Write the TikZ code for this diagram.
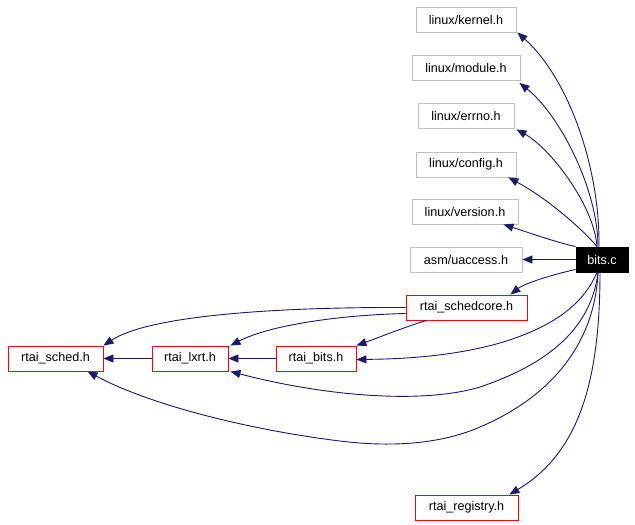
\documentclass[tikz,border=0pt]{standalone}
\usepackage{fontspec}
\setmainfont{Liberation Sans}
\usetikzlibrary{arrows.meta}
\definecolor{edgeblue}{RGB}{25,25,112}
\definecolor{boxgray}{RGB}{191,191,191}
\tikzset{
  filebox/.style={draw=boxgray, line width=0.9pt, minimum height=25pt, inner sep=0pt, font=\fontsize{12.6pt}{14pt}\selectfont},
  redbox/.style={filebox, draw=red},
  mainbox/.style={filebox, draw=black, fill=black, text=white},
  dep/.style={draw=edgeblue, line width=0.9pt, -{Triangle[length=10pt,width=8pt]}}
}
\begin{document}
\begin{tikzpicture}[x=1pt,y=-1pt]
\useasboundingbox (0,0) rectangle (635,525);
\node[filebox, minimum width=100pt] (kernel) at (466,19.5) {linux/kernel.h};
\node[filebox, minimum width=108pt] (module) at (466,68) {linux/module.h};
\node[filebox, minimum width=96pt] (errno) at (466,115.5) {linux/errno.h};
\node[filebox, minimum width=100pt] (config) at (466,164.5) {linux/config.h};
\node[filebox, minimum width=106pt] (version) at (465,211.5) {linux/version.h};
\node[filebox, minimum width=112pt] (uaccess) at (466,259.5) {asm/uaccess.h};
\node[mainbox, minimum width=52pt] (bits) at (602,259.5) {bits.c};
\node[redbox, minimum width=121pt] (schedcore) at (466.5,307.5) {rtai\_schedcore.h};
\node[redbox, minimum width=95pt] (sched) at (55.5,358.5) {rtai\_sched.h};
\node[redbox, minimum width=76pt] (lxrt) at (190,358.5) {rtai\_lxrt.h};
\node[redbox, minimum width=80pt] (bitsh) at (316,358.5) {rtai\_bits.h};
\node[redbox, minimum width=103pt] (registry) at (466.5,507.5) {rtai\_registry.h};

% bits.c -> upper headers
\draw[dep] ([xshift=-3pt]bits.north) .. controls (600,170) and (570,80) .. ([xshift=1pt]kernel.south east);
\draw[dep] ([xshift=-4pt]bits.north) .. controls (598,190) and (560,115) .. ([xshift=-1pt,yshift=-2pt]module.south east);
\draw[dep] ([xshift=-5pt]bits.north) .. controls (594,205) and (550,148) .. ([xshift=2pt,yshift=-1pt]errno.south east);
\draw[dep] ([xshift=-5pt]bits.north) .. controls (585,232) and (550,200) .. ([xshift=-8pt]config.south east);
\draw[dep] (bits.north west) .. controls (555,242) and (530,233) .. ([xshift=-15pt]version.south east);
\draw[dep] (bits.west) -- (uaccess.east);
\draw[dep] ([yshift=3pt]bits.south west) .. controls (555,274) and (525,283) .. ([xshift=-17pt]schedcore.north east);

% bits.c -> lower headers
\draw[dep] ([xshift=-5pt]bits.south) .. controls (585,300) and (560,325) .. (500,343)
  .. controls (450,357) and (400,359) .. ([yshift=-1pt]bitsh.east);
\draw[dep] ([xshift=-4pt]bits.south) .. controls (592,320) and (560,360) .. (480,387)
  .. controls (420,405) and (320,395) .. ([xshift=2pt]lxrt.south east);
\draw[dep] ([xshift=-4pt]bits.south) .. controls (595,340) and (555,395) .. (480,427)
  .. controls (434,447) and (380,446) .. (340,441)
  .. controls (250,430) and (150,405) .. ([xshift=32pt]sched.south);
\draw[dep] ([xshift=-2pt]bits.south) .. controls (600,390) and (575,455) .. ([xshift=-9pt]registry.north east);

% rtai_schedcore.h -> others
\draw[dep] (schedcore.west) .. controls (280,307) and (150,315) .. (sched.north east);
\draw[dep] ([yshift=-6pt]schedcore.west) .. controls (340,315) and (270,325) .. ([xshift=2pt]lxrt.north east);
\draw[dep] ([xshift=21pt]schedcore.south west) .. controls (405,327) and (380,337) .. (bitsh.north east);

% straight ones
\draw[dep] (lxrt.west) -- (sched.east);
\draw[dep] (bitsh.west) -- (lxrt.east);
\end{tikzpicture}
\end{document}
